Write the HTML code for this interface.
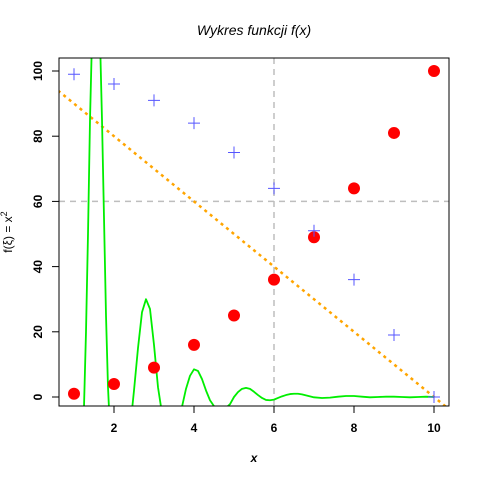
<!DOCTYPE html>
<html><head><meta charset="utf-8"><style>html,body{margin:0;background:#fff;overflow:hidden;width:480px;height:480px}svg{display:block;font-family:"Liberation Sans",sans-serif}</style></head>
<body>
<svg id="c" width="480" height="480" xmlns="http://www.w3.org/2000/svg">
<defs><clipPath id="clip"><rect x="59" y="58" width="390" height="348"/></clipPath></defs>
<text x="254" y="35" text-anchor="middle" font-size="14" font-style="italic">Wykres funkcji f(x)</text>
<text x="254" y="462" text-anchor="middle" font-size="12" font-style="italic" font-weight="bold">x</text>
<text transform="translate(12,232) rotate(-90)" text-anchor="middle" font-size="12">f(ξ) = x<tspan dy="-5" font-size="9">2</tspan></text>
<g id="plot" clip-path="url(#clip)"></g>
<g id="axes"></g>
<rect x="59" y="58" width="390" height="348" fill="none" stroke="#000"/>
</svg>
<script>
const xTicks=[2,4,6,8,10];
const yTicks=[0,20,40,60,80,100];
const px=[1,2,3,4,5,6,7,8,9,10];
const redY=[1,4,9,16,25,36,49,64,81,100];
const blueY=[99,96,91,84,75,64,51,36,19,0];
const lineA=100, lineB=-10;
const vLineX=6, hLineY=60;
const curveX=[1,1.1,1.2,1.25,1.3,1.35,1.4,1.45,1.5,1.55,1.6,1.65,1.7,1.75,1.8,1.85,1.9,2,2.1,2.2,2.3,2.4,2.5,2.6,2.7,2.8,2.9,3,3.1,3.2,3.3,3.4,3.5,3.6,3.7,3.8,3.9,4,4.1,4.2,4.3,4.4,4.5,4.6,4.7,4.8,4.9,5,5.1,5.2,5.3,5.4,5.5,5.6,5.7,5.8,5.9,6,6.1,6.2,6.3,6.4,6.5,6.6,6.7,6.8,6.9,7,7.2,7.4,7.6,7.8,8,8.2,8.4,8.6,8.8,9,9.2,9.4,9.6,9.8,10];
const curveY=[-80,-50,-20,-3,20,50,85,110,125,130,125,110,85,55,25,3,-15,-40,-55,-60,-45,-15,2,15,26,30,27,16,3,-5,-11,-13,-12,-8,-3,2.5,6.5,8.5,8,5.5,2,-1,-2.8,-3.5,-3.8,-3.3,-2.2,0,1.5,2.5,2.8,2.5,1.6,0.6,-0.3,-0.9,-1,-0.8,-0.3,0.2,0.6,0.9,1,1,0.8,0.5,0.2,-0.1,-0.3,-0.2,0.1,0.3,0.3,0.1,-0.1,0,0.1,0.1,0,-0.1,0,0.1,0];
const X=v=>74+(v-1)*40, Y=v=>397-v*3.26;
const YC=v=>Y(Math.max(-10,Math.min(115,v)));
const NS='http://www.w3.org/2000/svg';
function mk(t,a,p){const e=document.createElementNS(NS,t);for(const k in a)e.setAttribute(k,a[k]);p.appendChild(e);return e;}
const plot=document.getElementById('plot'), axes=document.getElementById('axes');
let g=mk('line',{x1:X(vLineX),x2:X(vLineX),y1:58,y2:406,stroke:'#bebebe','stroke-width':1.5,'stroke-dasharray':'6,5'},plot);


g=mk('line',{x1:59,x2:449,y1:Y(hLineY),y2:Y(hLineY),stroke:'#bebebe','stroke-width':1.5,'stroke-dasharray':'6,5'},plot);


g=mk('line',{x1:X(0.6),x2:X(10.4),y1:Y(lineA+lineB*0.6),y2:Y(lineA+lineB*10.4),stroke:'orange','stroke-width':2.5,'stroke-dasharray':'3,4'},plot);


g=mk('polyline',{points:curveX.map((x,i)=>X(x)+','+YC(curveY[i])).join(' '),fill:'none',stroke:'#00ee00','stroke-width':1.8,'stroke-linejoin':'round'},plot);


px.forEach((x,i)=>{
 const c=mk('circle',{cx:X(x),cy:Y(redY[i]),r:6,fill:'red'},plot);
 
 
 const p=mk('path',{d:`M${X(x)-6},${Y(blueY[i])}h12M${X(x)},${Y(blueY[i])-6}v12`,stroke:'#5555ff','stroke-width':1},plot);
 
 
});
xTicks.forEach(t=>{
 mk('line',{x1:X(t),x2:X(t),y1:406,y2:413,stroke:'#000'},axes);
 const l=mk('text',{x:X(t),y:432,'text-anchor':'middle','font-size':12,'font-weight':'bold'},axes);
 l.textContent=t;
 
 
});
yTicks.forEach(t=>{
 mk('line',{x1:52,x2:59,y1:Y(t),y2:Y(t),stroke:'#000'},axes);
 const l=mk('text',{transform:`translate(42,${Y(t)}) rotate(-90)`,'text-anchor':'middle','font-size':12,'font-weight':'bold'},axes);
 l.textContent=t;
 
 
});
</script>
</body></html>
